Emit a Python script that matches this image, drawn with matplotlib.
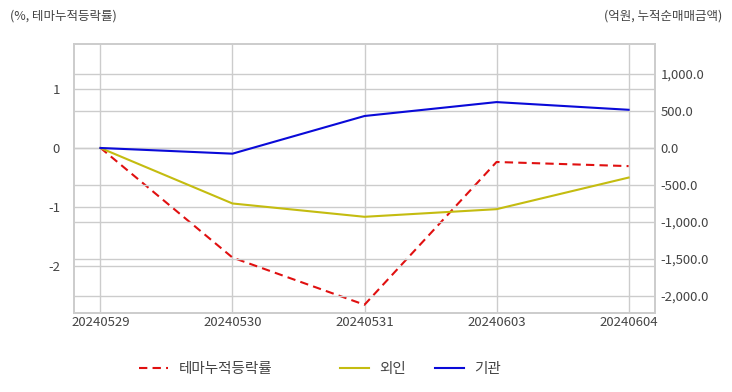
import matplotlib.pyplot as plt
from matplotlib.ticker import FuncFormatter
from matplotlib.lines import Line2D

plt.rcParams['font.family'] = ['Noto Sans CJK KR', 'DejaVu Sans']
plt.rcParams['axes.unicode_minus'] = False

dates = ['20240529', '20240530', '20240531', '20240603', '20240604']
theme_rate = [0.0, -1.86, -2.66, -0.24, -0.31]
foreign = [0.0, -750.0, -930.0, -827.0, -400.0]
institution = [0.0, -77.0, 432.0, 620.0, 516.0]

series_names = ['테마누적등락률', '외인', '기관']
series_colors = ['#e01010', '#c4bc10', '#0a0ad8']

grid_c = '#cccccc'
text_c = '#444444'
dash = (0, (4, 2.5))

fig = plt.figure(figsize=(7.32, 3.92), dpi=100)
ax = fig.add_axes([74 / 732, 1 - 313 / 392, (655 - 74) / 732, (313 - 44) / 392])
ax2 = ax.twinx()

x = list(range(len(dates)))
ax.plot(x, theme_rate, color=series_colors[0], linestyle=dash, linewidth=1.5, zorder=3)
ax2.plot(x, foreign, color=series_colors[1], linewidth=1.5)
ax2.plot(x, institution, color=series_colors[2], linewidth=1.5)

ax.set_xlim(-0.2, 4.2)
ax.set_ylim(-2.80, 1.76)
ax2.set_ylim(-2230, 1405)
ax.set_yticks([1, 0, -1, -2])
ax2.set_yticks([1000, 500, 0, -500, -1000, -1500, -2000])
ax2.yaxis.set_major_formatter(FuncFormatter(lambda v, p: f'{v:,.1f}'))
ax.set_xticks(x)
ax.set_xticklabels(dates)

ax.grid(True, color=grid_c, linewidth=1)
ax2.grid(True, axis='y', color=grid_c, linewidth=1)
ax.set_axisbelow(True)
ax2.set_axisbelow(True)

for a in (ax, ax2):
    for s in a.spines.values():
        s.set_color(grid_c)
        s.set_linewidth(1.2)
    a.tick_params(length=0, labelsize=9.5, colors=text_c)
ax.tick_params(axis='y', pad=10)
ax2.tick_params(axis='y', pad=4)
ax.tick_params(axis='x', pad=2)

fig.text(10 / 732, 1 - 16 / 392, '(%, 테마누적등락률)', fontsize=9, color=text_c,
         ha='left', va='center')
fig.text(722 / 732, 1 - 16 / 392, '(억원, 누적순매매금액)', fontsize=9, color=text_c,
         ha='right', va='center')

# legend entries placed one by one (uneven spacing in the original)
legend_x = [139, 340, 435]
for i, name in enumerate(series_names):
    ls = dash if i == 0 else '-'
    h = Line2D([], [], color=series_colors[i], linestyle=ls, linewidth=1.5)
    fig.legend([h], [name], loc='center left',
               bbox_to_anchor=(legend_x[i] / 732, 1 - 369 / 392), frameon=False,
               fontsize=10.5, labelcolor=text_c, handlelength=2.0,
               handletextpad=0.7, borderpad=0, borderaxespad=0)

fig.savefig('out.png', dpi=100)
